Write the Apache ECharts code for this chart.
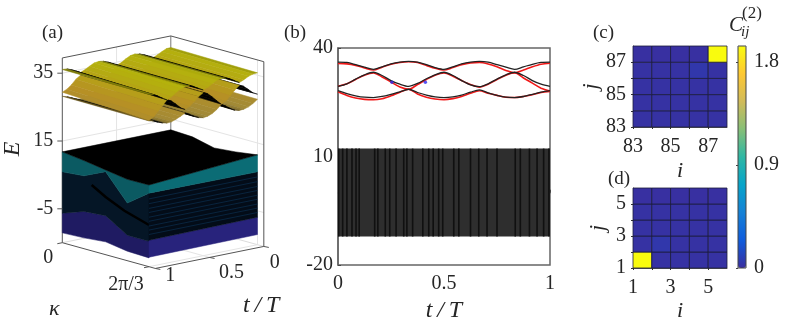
<!DOCTYPE html>
<html>
<head>
<meta charset="utf-8">
<title>Band structure and correlation</title>
<style>html,body{margin:0;padding:0;background:#fff}#chart{width:789px;height:328px}</style>
<script src="https://cdn.jsdelivr.net/npm/echarts@6/dist/echarts.min.js"></script>
</head>
<body>
<div id="chart"></div>
<script>
// --- Data ---
const tKnots = [0,.042,.083,.125,.167,.208,.25,.292,.333,.375,.417,.458,.5,.542,.583,.625,.667,.708,.75,.792,.833,.875,.917,.958,1];

// three edge bands, black curves in (b), also the kappa = 0 rim of the sheets in (a)
const topBlack = [36.1,36.0,35.4,34.7,34.1,34.8,35.6,36.1,36.3,36.1,35.4,34.6,34.1,34.8,35.6,36.1,36.3,36.1,35.4,34.7,34.1,34.8,35.5,36.0,36.1];
const midBlack = [29.4,30.1,31.4,32.6,33.3,32.4,31.0,30.0,29.4,30.2,31.5,32.6,33.3,32.4,31.0,29.8,29.3,30.1,31.4,32.6,33.3,32.4,31.0,30.0,29.4];
const lowBlack = [28.2,27.4,26.8,26.4,26.3,26.6,27.2,27.9,28.6,27.7,27.0,26.5,26.3,26.5,27.0,27.8,28.4,27.6,26.9,26.4,26.3,26.6,27.2,27.8,28.2];
// red curves in (b), also the kappa = 2pi/3 rim of the sheets in (a)
const topRed = [35.7,35.6,35.2,34.5,33.9,34.7,35.5,36.0,36.2,36.0,35.2,34.4,33.9,34.6,35.4,35.9,36.0,35.6,34.8,33.8,33.1,33.9,34.8,35.5,35.8];
const midRed = [29.4,30.1,31.3,32.5,33.1,32.0,30.6,29.2,28.6,29.9,31.3,32.5,33.1,32.2,31.0,29.9,29.2,30.0,31.3,32.5,33.2,31.7,30.3,28.9,28.1];
const lowRed = [27.9,26.9,26.2,25.8,25.7,26.0,26.8,27.8,28.6,27.3,26.4,25.9,25.7,26.0,26.6,27.5,28.2,27.5,26.9,26.4,26.3,26.6,27.1,27.7,28.0];
const blueDots = [[.254,30.5],[.412,30.5]];

// bulk band of (b): limits and the darker stripes
const bulkLow = -12.1;
const bulkHigh = 12.2;
const bulkStripes = [.003,.022,.042,.066,.085,.1,.173,.188,.223,.244,.274,.31,.325,.352,.4,.428,.449,.475,.494,.546,.57,.625,.664,.703,.75,.836,.86,.903,.939,.97,.995];

// bulk block of (a), boundaries of its faces
const kappaMax = 2 * Math.PI / 3;
const kappaKnots = [0, .5236, 1.0472, 1.5708, 2.0944];
const leftBottom = [-12.1,-11.8,-11.2,-12.2,-12.4];
const leftNavyTop = [-6.3,-4,-3.5,-7.5,-7.5];
const leftTealBottom = [5.9,6.5,9.5,2,6.7];
const leftTop = [11.8,11,10,9,9.1];
const backTop = [11.8,11.5,10,10.6,11.5];
const diagKappa = [.71,1.0472,1.5,2.0944];
const diagE = [4.4,2,-.5,-2.7];
// right face: value at t=1, value at t=0
const rightBottom = [-12.2,-12];
const rightNavyTop = [-7.2,-6.9];
const rightTealBottom = [6.7,6.5];
const rightTop = [9.1,11.5];
const rightLevels = [-5.5,-4.2,-3,-1.6,-.4,1,2.2,3.6,5];

// 3D axis ticks
const eTicks = [35,15,-5];
const kappaTicks = [[0,'0'],[kappaMax,'2π/3']];
const tTicks = [[1,'1'],[.5,'0.5'],[0,'0']];

// correlation maps, rows j, columns i
const iTicksC = [83,84,85,86,87];
const cellsC = [
  [.02,.02,.02,.02,.02],
  [.02,.02,.02,.02,.02],
  [.02,.02,.02,.02,.02],
  [.02,.02,.02,.05,.02],
  [.01,.01,.01,.01,1.94]
];
const iTicksD = [1,2,3,4,5];
const cellsD = [
  [1.94,.02,.02,.02,.02],
  [.02,.05,.02,.02,.02],
  [.02,.02,.02,.02,.02],
  [.02,.02,.02,.02,.02],
  [.01,.01,.01,.01,.01]
];
const barMax = 1.94;
const parula = ['#3a2e9e','#0f5cdd','#1481d6','#06a4ca','#2eb7a4','#87bf77','#d1bb59','#fec832','#f9fb0e'];

// --- Helpers ---
const SERIF = '"Liberation Serif","DejaVu Serif",serif';
const INK = '#262626';

function project(t, k, E) {
    const kn = k / kappaMax;
    return [62.3 + 108.5 * (1 - t) + 86.7 * kn, 242.7 - (E + 15) * 3.39 - 22 * (1 - t) + 24 * kn];
}

function hexRgb(hex) {
    return [1, 3, 5].map(i => parseInt(hex.substr(i, 2), 16));
}

function parulaAt(f) {
    f = Math.min(1, Math.max(0, f)) * (parula.length - 1);
    const i = Math.min(parula.length - 2, Math.floor(f));
    const a = hexRgb(parula[i]), b = hexRgb(parula[i + 1]);
    return a.map((v, n) => v + (b[n] - v) * (f - i));
}

function rgb(c, m) {
    return `rgb(${c.map(v => Math.round(v * m)).join(',')})`;
}

// --- Panel (a): flat list of shapes, painted in order ---
const shapes3d = [];
const addLine = (pts, color, width) => shapes3d.push({ kind: 'polyline', pts, color, width: width || 1 });
const addPoly = (pts, fill) => shapes3d.push({ kind: 'polygon', pts, fill });
const addText = (anchor, off, text, size, align) => shapes3d.push({ kind: 'text', anchor, off, text, size, align });

const boxK = 2.247, boxLow = -15, boxHigh = 39.5;
// back walls and floor
eTicks.forEach(E => addLine([[1,0,E],[0,0,E],[0,boxK,E]], '#e4e4e4'));
addLine([[.5,0,boxLow],[.5,0,boxHigh]], '#e4e4e4');
addLine([[0,kappaMax,boxLow],[0,kappaMax,boxHigh]], '#e4e4e4');
addLine([[1,0,boxLow],[0,0,boxLow],[0,boxK,boxLow]], '#dcdcdc');
addLine([[.5,0,boxLow],[.5,boxK,boxLow]], '#e4e4e4');
addLine([[1,kappaMax,boxLow],[0,kappaMax,boxLow]], '#e4e4e4');
// frame
addLine([[0,0,boxLow],[0,0,boxHigh]], '#777');
addLine([[1,0,boxHigh],[0,0,boxHigh],[0,boxK,boxHigh]], '#555');
addLine([[1,0,boxLow],[1,0,boxHigh]], '#555');
addLine([[0,boxK,boxLow],[0,boxK,boxHigh]], '#555');
addLine([[1,0,boxLow],[1,boxK,boxLow],[0,boxK,boxLow]], '#555');

// bulk block
const leftStrip = (low, high) => kappaKnots.map((k, i) => [1, k, low[i]]).concat(kappaKnots.map((k, i) => [1, k, high[i]]).reverse());
const rightStrip = (low, high) => [[1,kappaMax,low[0]],[0,kappaMax,low[1]],[0,kappaMax,high[1]],[1,kappaMax,high[0]]];

addPoly(leftStrip(leftBottom, leftNavyTop), '#1f1b62');
addPoly(leftStrip(leftNavyTop, leftTealBottom), '#051626');
addPoly(leftStrip(leftTealBottom, leftTop), '#0b5a62');
addLine(diagKappa.map((k, i) => [1, k, diagE[i]]), '#000', 2.5);
addPoly(rightStrip(rightBottom, rightNavyTop), '#28237c');
addPoly(rightStrip(rightNavyTop, rightTealBottom), '#030c18');
rightLevels.forEach(E => addLine([[1,kappaMax,E],[0,kappaMax,E]], '#0b3458', .6));
addPoly(rightStrip(rightTealBottom, rightTop), '#0b6c75');
addPoly(kappaKnots.map((k, i) => [1, k, leftTop[i]]).concat(kappaKnots.map((k, i) => [0, k, backTop[i]]).reverse()), '#000');

// the three upper sheets, lowest first, back to front
const FLAT_AREA = 0.477;
[[lowBlack, lowRed], [midBlack, midRed], [topBlack, topRed]].forEach(([near, far]) => {
    for (let n = 0; n < tKnots.length - 1; n++) {
        const quad = [[tKnots[n],0,near[n]],[tKnots[n],kappaMax,far[n]],[tKnots[n+1],kappaMax,far[n+1]],[tKnots[n+1],0,near[n+1]]];
        const p = quad.map(q => project(q[0], q[1], q[2]));
        // slope of the t edge against the kappa edge tells how far the quad is foreshortened
        const slope = ((p[0][1] - p[3][1]) + (p[1][1] - p[2][1])) / ((p[0][0] - p[3][0]) + (p[1][0] - p[2][0]));
        const ratio = (0.277 - slope) / FLAT_AREA;
        const mean = (near[n] + far[n] + near[n+1] + far[n+1]) / 4;
        const base = parulaAt((mean + 13) / 49.5);
        const lit = ratio < .42 ? 0 : Math.min(1, .6 + (ratio - .42) * .4);
        addPoly(quad, rgb(base, lit * .72));
    }
});

// 3D ticks and labels
eTicks.forEach(E => {
    const a = [1, 0, E];
    shapes3d.push({ kind: 'tick', anchor: a, dx: -5, dy: 0 });
    addText(a, [-9, 0], String(E), 20, 'right');
});
kappaTicks.forEach(([k, text], i) => {
    const a = [1, k, boxLow];
    shapes3d.push({ kind: 'tick', anchor: a, dx: -5, dy: 1 });
    addText(a, i === 0 ? [-14, 15] : [-23, 18], text, 20, 'center');
});
tTicks.forEach(([t, text], i) => {
    const a = [t, boxK, boxLow];
    shapes3d.push({ kind: 'tick', anchor: a, dx: 5, dy: 1 });
    addText(a, [[15, 7], [22, 15], [11, 16]][i], text, 20, 'center');
});

function render3d(params, api) {
    const s = shapes3d[params.dataIndex];
    const at = q => { const p = project(q[0], q[1], q[2]); return api.coord(p); };
    if (s.kind === 'polyline') {
        return { type: 'polyline', shape: { points: s.pts.map(at) }, style: { stroke: s.color, lineWidth: s.width, fill: null } };
    }
    if (s.kind === 'polygon') {
        return { type: 'polygon', shape: { points: s.pts.map(at) }, style: { fill: s.fill, stroke: s.fill, lineWidth: .5 } };
    }
    const a = at(s.anchor);
    if (s.kind === 'tick') {
        return { type: 'line', shape: { x1: a[0], y1: a[1], x2: a[0] + s.dx, y2: a[1] + s.dy }, style: { stroke: '#555', lineWidth: 1 } };
    }
    return { type: 'text', style: { text: s.text, x: a[0] + s.off[0], y: a[1] + s.off[1], align: s.align, verticalAlign: 'middle', fontFamily: SERIF, fontSize: s.size, fill: INK } };
}

// --- Panel (b) bulk ---
function renderBulkBack(params, api) {
    const a = api.coord([0, bulkHigh]), b = api.coord([1, bulkLow]);
    return { type: 'rect', shape: { x: a[0], y: a[1], width: b[0] - a[0], height: b[1] - a[1] }, style: { fill: '#2e2e2e' } };
}
function renderStripe(params, api) {
    const a = api.coord([api.value(0), bulkHigh]), b = api.coord([api.value(0), bulkLow]);
    return { type: 'line', shape: { x1: a[0], y1: a[1], x2: b[0], y2: b[1] }, style: { stroke: '#101010', lineWidth: 1.6 } };
}

// --- Panels (c), (d) cells ---
function renderCell(params, api) {
    const i = api.value(0), j = api.value(1);
    const a = api.coord([i, j + 1]), b = api.coord([i + 1, j]);
    return { type: 'rect', shape: { x: a[0], y: a[1], width: b[0] - a[0], height: b[1] - a[1] }, style: { fill: api.visual('color'), stroke: '#1c1c3c', lineWidth: .8 } };
}
const cellData = (ticks, cells) => cells.flatMap((row, r) => row.map((v, c) => [ticks[c], ticks[r], v]));

function evenTicks(first) {
    return v => ((v - first) % 2 === 0 ? String(v) : '');
}

function mapAxis(first, gridIndex, name, nameGap, margin) {
    return {
        type: 'value', gridIndex, min: first, max: first + 5, interval: 1, name, nameLocation: 'middle', nameGap,
        nameTextStyle: { fontFamily: SERIF, fontStyle: 'italic', fontSize: 22, color: INK },
        axisLine: { show: true, lineStyle: { color: '#555' } },
        axisTick: { show: true, length: 2, lineStyle: { color: '#333' } },
        splitLine: { show: false },
        axisLabel: { formatter: evenTicks(first), hideOverlap: false, showMaxLabel: false, fontFamily: SERIF, fontSize: 20, color: INK, margin }
    };
}

const panelLabel = (text, x, y) => ({ type: 'text', x, y, style: { text, fontFamily: SERIF, fontSize: 19, fill: INK } });

const option = {
    animation: false,
    backgroundColor: '#fff',
    grid: [
        { left: 0, top: 0, width: 789, height: 328 },
        { left: 338, top: 48, width: 212, height: 218, show: true, borderColor: '#666', borderWidth: 1.5, backgroundColor: 'transparent' },
        { left: 633, top: 46, width: 94, height: 81 },
        { left: 633, top: 188, width: 94, height: 80 },
        { left: 738, top: 46, width: 8, height: 222, show: true, borderColor: '#444', borderWidth: 1, z: 6, backgroundColor: 'transparent' }
    ],
    xAxis: [
        { type: 'value', gridIndex: 0, min: 0, max: 789, show: false },
        {
            type: 'value', gridIndex: 1, min: 0, max: 1, interval: .5, name: 't\u2009/\u2009T', nameLocation: 'middle', nameGap: 31,
            nameTextStyle: { fontFamily: SERIF, fontStyle: 'italic', fontSize: 24, color: INK },
            axisLine: { lineStyle: { color: '#666', width: 1.5 } },
            axisTick: { inside: true, length: 3, lineStyle: { color: '#444' } },
            splitLine: { show: false },
            axisLabel: { fontFamily: SERIF, fontSize: 20, color: INK, margin: 9 }
        },
        mapAxis(83, 2, 'i', 33, 10),
        mapAxis(1, 3, 'i', 32, 10),
        { type: 'value', gridIndex: 4, min: 0, max: 1, show: false }
    ],
    yAxis: [
        { type: 'value', gridIndex: 0, min: 0, max: 328, inverse: true, show: false },
        {
            type: 'value', gridIndex: 1, min: -20, max: 40,
            axisLine: { show: true, lineStyle: { color: '#666', width: 1.5 } },
            axisTick: { inside: true, length: 3, customValues: [-20, 10, 40], lineStyle: { color: '#444' } },
            splitLine: { show: false },
            axisLabel: { customValues: [-20, 10, 40], fontFamily: SERIF, fontSize: 20, color: INK, margin: 5 }
        },
        mapAxis(83, 2, 'j', 24, 7),
        mapAxis(1, 3, 'j', 24, 7),
        {
            type: 'value', gridIndex: 4, position: 'right', min: 0, max: barMax, interval: .9,
            axisLine: { show: false },
            axisTick: { inside: true, length: 2, lineStyle: { color: '#444' } },
            splitLine: { show: false },
            axisLabel: { showMaxLabel: false, fontFamily: SERIF, fontSize: 20, color: INK, margin: 8 }
        }
    ],
    visualMap: {
        type: 'continuous', seriesIndex: [8, 9], dimension: 2, min: 0, max: barMax, left: 738, top: 46,
        itemWidth: 8, itemHeight: 222, padding: 0, text: null, calculable: false, hoverLink: false, showLabel: false,
        inRange: { color: parula }, textStyle: { fontSize: 0 }
    },
    series: [
        { type: 'custom', xAxisIndex: 0, yAxisIndex: 0, clip: false, renderItem: render3d, data: shapes3d.map((s, i) => [i]), silent: true },
        { type: 'custom', xAxisIndex: 1, yAxisIndex: 1, renderItem: renderBulkBack, data: [[0]], silent: true },
        { type: 'custom', xAxisIndex: 1, yAxisIndex: 1, clip: true, renderItem: renderStripe, data: bulkStripes.map(t => [t]), silent: true },
        ...[lowRed, midRed, topRed].map(values => ({
            type: 'line', xAxisIndex: 1, yAxisIndex: 1, data: tKnots.map((t, i) => [t, values[i]]), showSymbol: false, smooth: .3,
            lineStyle: { color: '#f01818', width: 1.6 }, silent: true
        })),
        { type: 'scatter', xAxisIndex: 1, yAxisIndex: 1, z: 4, data: blueDots, symbolSize: 3.5, itemStyle: { color: '#2a2af0' }, silent: true },
        // cell series sit at 8 and 9, the black curves go after them in the list
        { type: 'line', xAxisIndex: 1, yAxisIndex: 1, data: tKnots.map((t, i) => [t, topBlack[i]]), showSymbol: false, smooth: .3, z: 3, lineStyle: { color: '#222', width: 1.3 }, silent: true },
        { type: 'custom', xAxisIndex: 2, yAxisIndex: 2, renderItem: renderCell, data: cellData(iTicksC, cellsC), encode: { x: 0, y: 1 }, silent: true },
        { type: 'custom', xAxisIndex: 3, yAxisIndex: 3, renderItem: renderCell, data: cellData(iTicksD, cellsD), encode: { x: 0, y: 1 }, silent: true },
        ...[midBlack, lowBlack].map(values => ({
            type: 'line', xAxisIndex: 1, yAxisIndex: 1, data: tKnots.map((t, i) => [t, values[i]]), showSymbol: false, smooth: .3, z: 3,
            lineStyle: { color: '#222', width: 1.3 }, silent: true
        }))
    ],
    graphic: [
        panelLabel('(a)', 42, 24),
        panelLabel('(b)', 284, 24),
        panelLabel('(c)', 593, 24),
        panelLabel('(d)', 608, 170),
        { type: 'text', x: 13, y: 149, rotation: Math.PI / 2, originX: 0, originY: 0, style: { text: 'E', fontFamily: SERIF, fontStyle: 'italic', fontSize: 24, fill: INK, align: 'center', verticalAlign: 'middle' } },
        { type: 'text', x: 49, y: 298, style: { text: 'κ', fontFamily: SERIF, fontStyle: 'italic', fontSize: 22, fill: INK } },
        { type: 'text', x: 243, y: 294, style: { text: 't\u2009/\u2009T', fontFamily: SERIF, fontStyle: 'italic', fontSize: 24, fill: INK } },
        { type: 'text', x: 729, y: 15, style: { text: 'C', fontFamily: SERIF, fontStyle: 'italic', fontSize: 21, fill: INK } },
        { type: 'text', x: 741, y: 25, style: { text: 'ij', fontFamily: SERIF, fontStyle: 'italic', fontSize: 15, fill: INK } },
        { type: 'text', x: 742, y: 5, style: { text: '(2)', fontFamily: SERIF, fontSize: 17, fill: INK } }
    ]
};

const chart = echarts.init(document.getElementById('chart'), null, { renderer: 'canvas' });
chart.setOption(option);
</script>
</body>
</html>
